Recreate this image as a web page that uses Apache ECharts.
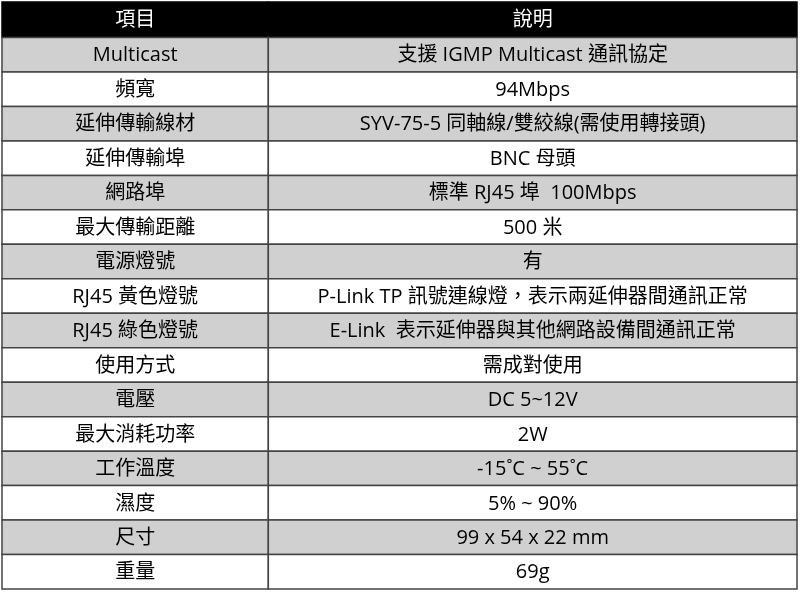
<!DOCTYPE html>
<html>
<head>
<meta charset="utf-8">
<script src="https://cdn.jsdelivr.net/npm/echarts@6/dist/echarts.min.js"></script>
<style>html,body{margin:0;padding:0;background:#fff}#chart{width:800px;height:592px}</style>
</head>
<body>
<div id="chart"></div>
<script>
const headers = ["項目", "說明"];
const items = ["Multicast", "頻寬", "延伸傳輸線材", "延伸傳輸埠", "網路埠", "最大傳輸距離", "電源燈號",
	"RJ45 黃色燈號", "RJ45 綠色燈號", "使用方式", "電壓", "最大消耗功率", "工作溫度", "濕度", "尺寸", "重量"];
const descs = ["支援 IGMP Multicast 通訊協定", "94Mbps", "SYV-75-5 同軸線/雙絞線(需使用轉接頭)", "BNC 母頭",
	"標準 RJ45 埠  100Mbps", "500 米", "有", "P-Link TP 訊號連線燈，表示兩延伸器間通訊正常",
	"E-Link  表示延伸器與其他網路設備間通訊正常", "需成對使用", "DC 5~12V", "2W", "-15˚C ~ 55˚C",
	"5% ~ 90%", "99 x 54 x 22 mm", "69g"];

// column boundaries in x-axis units (0..100)
const colEdges = [0, 33.5, 100];
const font = "'Open Sans','Noto Sans CJK TC',sans-serif";

// rows: header is row 0, rows are 1 unit tall except header (slightly taller)
const headerH = 1.03;
const cells = [];
headers.forEach((h, c) => cells.push([c, 0, h]));
items.forEach((it, r) => {
	cells.push([0, r + 1, it]);
	cells.push([1, r + 1, descs[r]]);
});

const chart = echarts.init(document.getElementById("chart"));
chart.setOption({
	animation: false,
	grid: {left: 2, right: 3, top: 2, bottom: 3},
	xAxis: {type: "value", min: 0, max: 100, show: false},
	yAxis: {type: "value", min: 0, max: items.length + headerH, inverse: true, show: false},
	series: [{
		type: "custom",
		data: cells,
		renderItem: (params, api) => {
			const c = api.value(0), r = api.value(1);
			const y0 = r === 0 ? 0 : headerH + r - 1;
			const y1 = r === 0 ? headerH : headerH + r;
			const p0 = api.coord([colEdges[c], y0]);
			const p1 = api.coord([colEdges[c + 1], y1]);
			const isHead = r === 0;
			const fill = isHead ? "#000" : (r % 2 === 1 ? "#d0d0d0" : "#fff");
			return {
				type: "group",
				children: [{
					type: "rect",
					shape: {x: p0[0], y: p0[1], width: p1[0] - p0[0], height: p1[1] - p0[1]},
					style: {fill: fill, stroke: isHead ? "#000" : "#444", lineWidth: 1.5}
				}, {
					type: "text",
					x: (p0[0] + p1[0]) / 2,
					y: (p0[1] + p1[1]) / 2 + 1,
					style: {
						text: cells[params.dataIndex][2],
						fill: isHead ? "#fff" : "#000",
						font: "20px " + font,
						align: "center",
						verticalAlign: "middle"
					}
				}]
			};
		}
	}]
});
</script>
</body>
</html>
